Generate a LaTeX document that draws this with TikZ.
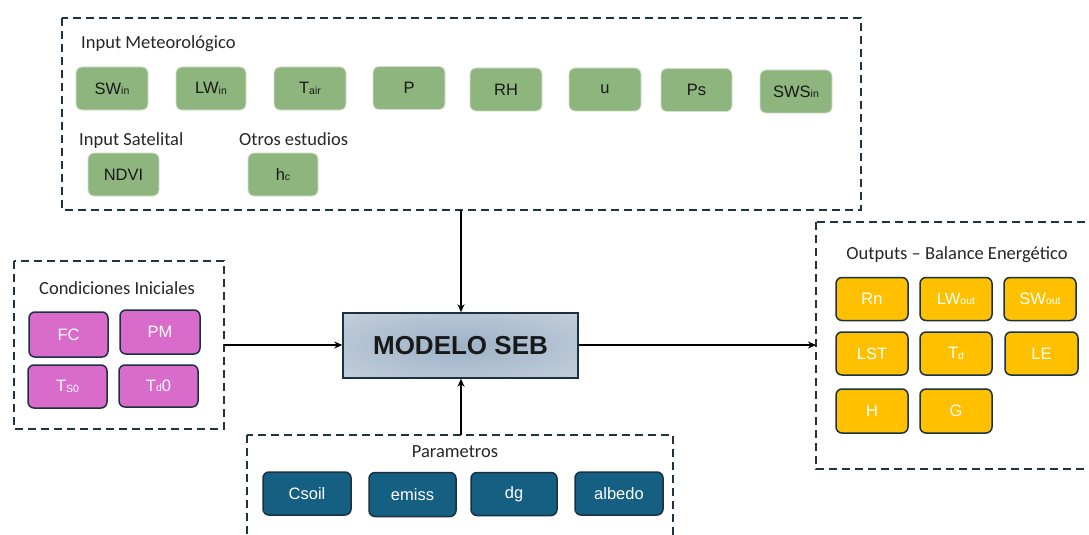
\documentclass[tikz,border=0pt]{standalone}
\usepackage{fontspec}
\setmainfont{Carlito}
\newfontfamily\boxfont{Liberation Sans}
\usetikzlibrary{arrows.meta}
\definecolor{dashcol}{HTML}{1E3344}
\definecolor{gfill}{HTML}{8EB57E}
\definecolor{pfill}{HTML}{D96CCB}
\definecolor{yfill}{HTML}{FFC000}
\definecolor{bfill}{HTML}{156082}
\definecolor{edgecol}{HTML}{1A3142}
\pgfdeclareradialshading{sebshade}{\pgfpoint{0bp}{0bp}}{%
  rgb(0bp)=(0.62,0.70,0.78);
  rgb(30bp)=(0.74,0.79,0.85);
  rgb(50bp)=(0.85,0.88,0.91);
  rgb(72bp)=(0.90,0.92,0.94)}
\newcommand{\sbs}[1]{\raisebox{-0.5pt}{\fontsize{10.5}{11}\selectfont #1}}
\tikzset{
  grp/.style={draw=dashcol, line width=1.6pt, dash pattern=on 8pt off 5pt},
  ttl/.style={font=\fontsize{18.5}{20}\selectfont, text=black!85, inner sep=0pt},
  cell/.style={rounded corners=6pt, minimum width=72pt, minimum height=43pt, inner sep=0pt,
    font=\boxfont\fontsize{16.5}{18}\selectfont},
  gbox/.style={cell, fill=gfill, draw=gfill!40!white, line width=0.8pt, text=black!90},
  pbox/.style={cell, fill=pfill, draw=edgecol, line width=1.5pt, text=white},
  ybox/.style={cell, fill=yfill, draw=edgecol, line width=1.5pt, text=white},
  bbox/.style={cell, fill=bfill, draw=edgecol, line width=1.5pt, text=white},
  arr/.style={line width=1.8pt, draw=black, -{Stealth[length=8pt,width=7pt]}},
}
\begin{document}
\begin{tikzpicture}[x=1pt,y=-1pt]
\useasboundingbox (0,0) rectangle (1089,535);
% group frames
\draw[grp] (62,18) rectangle (861,210);
\draw[grp] (14,261) rectangle (224,429);
\draw[grp] (816,222) rectangle (1100,469);
\draw[grp] (247,435) rectangle (673,545);
% titles
\node[ttl, anchor=west] (tmet) at (81,44) {Input Meteorológico};
\node[ttl, anchor=west] (tsat) at (79,141) {Input Satelital};
\node[ttl, anchor=west] (tot) at (239,139) {Otros estudios};
\node[ttl] (tci) at (117,288) {Condiciones Iniciales};
\node[ttl] (tout) at (957,255) {Outputs – Balance Energético};
\node[ttl] (tpar) at (455,452) {Parametros};
% green
\node[gbox] (swin) at (112,88.5) {SW\sbs{in}};
\node[gbox, minimum width=70pt] (lwin) at (211,88.5) {LW\sbs{in}};
\node[gbox] (tair) at (310,88.5) {T\sbs{air}};
\node[gbox] (p) at (409,88) {P};
\node[gbox] (rh) at (506,89.5) {RH};
\node[gbox] (u) at (605,89.5) {u};
\node[gbox, minimum width=71pt] (ps) at (696.5,90) {Ps};
\node[gbox] (sws) at (796,91.5) {SWS\sbs{in}};
\node[gbox, minimum width=71pt] (ndvi) at (123.5,174.5) {NDVI};
\node[gbox, minimum width=70pt] (hc) at (283,174.5) {h\sbs{c}};
% pink
\node[pbox, minimum width=79pt, minimum height=45pt] (fc) at (68.5,334.5) {FC};
\node[pbox, minimum width=80pt, minimum height=44pt] (pm) at (160,332) {PM};
\node[pbox, minimum width=79pt] (ts0) at (67.5,386.5) {T\sbs{S0}};
\node[pbox, minimum width=79pt, minimum height=42pt] (td0) at (158.5,386) {T\sbs{d}0};
% model
\node[draw=edgecol, line width=1.5pt, inner sep=0pt, minimum width=235pt, minimum height=65pt,
  shading=sebshade,
  font=\boxfont\bfseries\fontsize{26}{28}\selectfont, text=black!90] (seb) at (460.5,345.5) {MODELO SEB};
% yellow
\node[ybox] (rn) at (872,299) {Rn};
\node[ybox] (lwout) at (956,299) {LW\sbs{out}};
\node[ybox] (swout) at (1040,299) {SW\sbs{out}};
\node[ybox] (lst) at (872,353.5) {LST};
\node[ybox] (td) at (956,353.5) {T\sbs{d}};
\node[ybox, minimum width=73pt] (le) at (1041.5,353.5) {LE};
\node[ybox, minimum height=44pt] (h) at (872,411) {H};
\node[ybox, minimum height=44pt] (g) at (956,411) {G};
% blue
\node[bbox, minimum width=88pt] (csoil) at (307,493.5) {Csoil};
\node[bbox, minimum width=87pt, minimum height=44pt] (emiss) at (412.5,494.5) {emiss};
\node[bbox, minimum width=86pt] (dg) at (514,494) {dg};
\node[bbox, minimum width=88pt] (albedo) at (619,493.5) {albedo};
% connector anchors
\coordinate (topf) at (461,210);
\coordinate (leftf) at (224,345);
\coordinate (rightf) at (816,345);
\coordinate (botf) at (461,435);
\draw[arr] (topf) -- (topf |- seb.north);
\draw[arr] (leftf) -- (leftf -| seb.west);
\draw[arr] (rightf -| seb.east) -- (rightf);
\draw[arr] (botf) -- (botf |- seb.south);
\end{tikzpicture}
\end{document}
